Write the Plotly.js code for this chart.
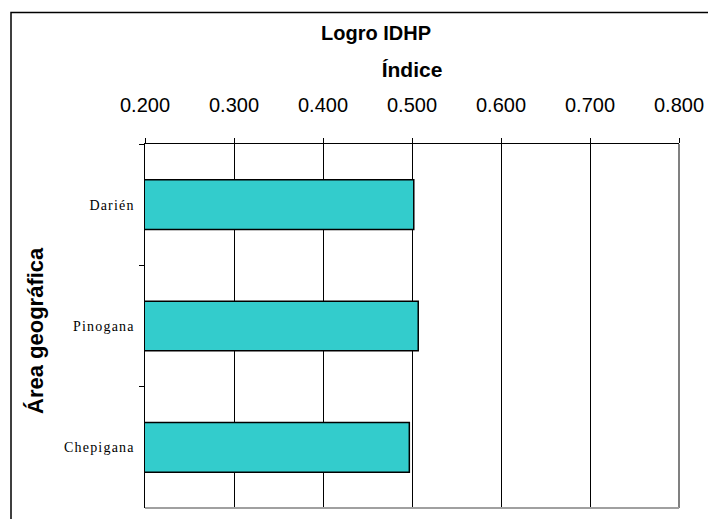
<!DOCTYPE html>
<html>
<head>
<meta charset="utf-8">
<script src="https://cdn.plot.ly/plotly-3.0.1.min.js"></script>
<style>
html,body{margin:0;padding:0;background:#fff;}
#chart{width:708px;height:519px;}
#chart .ytick text{letter-spacing:1.2px;}
</style>
</head>
<body>
<div id="chart"></div>
<script>
// Data
const categories = ["Darién", "Pinogana", "Chepigana"];
const indiceValues = [0.502, 0.507, 0.497];
const tickValues = [0.2, 0.3, 0.4, 0.5, 0.6, 0.7, 0.8];
const tickLabels = ["0.200", "0.300", "0.400", "0.500", "0.600", "0.700", "0.800"];
const chartTitle = "Logro IDHP";
const xTitle = "Índice";
const yTitle = "Área geográfica";

const W = 708, H = 519;
const L = 145, R = 29, T = 144, B = 11;
const pw = W - L - R, ph = H - T - B;
const px = v => (v - L) / pw;
const py = v => (H - B - v) / ph;

const trace = {
  type: "bar",
  orientation: "h",
  y: categories,
  x: indiceValues,
  marker: { color: "#33CCCC", line: { color: "#000000", width: 1.5 } },
  hoverinfo: "x+y"
};

const layout = {
  width: W, height: H,
  margin: { l: L, r: R, t: T, b: B, pad: 0 },
  paper_bgcolor: "#ffffff",
  plot_bgcolor: "#ffffff",
  showlegend: false,
  bargap: 0.59,
  title: {
    text: "<b>" + chartTitle + "</b>",
    font: { family: "Liberation Sans, Arial, sans-serif", size: 20, color: "#000" },
    xref: "paper", x: px(376), xanchor: "center",
    yref: "container", y: 1 - 33 / H, yanchor: "middle"
  },
  xaxis: {
    side: "top",
    range: [0.2, 0.8],
    tickvals: tickValues,
    ticktext: tickLabels,
    tickfont: { family: "Liberation Sans, Arial, sans-serif", size: 20, color: "#000" },
    ticks: "outside", ticklen: 5, tickcolor: "#000", tickwidth: 1,
    ticklabelstandoff: 18,
    showline: true, linecolor: "#000", linewidth: 1.5,
    showgrid: true, gridcolor: "#000", gridwidth: 1,
    zeroline: false,
    fixedrange: true,
    title: {
      text: "<b>" + xTitle + "</b>",
      font: { family: "Liberation Sans, Arial, sans-serif", size: 21, color: "#000" },
      standoff: 10
    }
  },
  yaxis: {
    type: "category",
    categoryorder: "array",
    categoryarray: categories,
    autorange: "reversed",
    tickson: "boundaries",
    ticks: "outside", ticklen: 5, tickcolor: "#000", tickwidth: 1,
    ticklabelstandoff: 6,
    tickfont: { family: "Liberation Serif, Times New Roman, serif", size: 14, color: "#000" },
    showline: true, linecolor: "#000", linewidth: 1.5,
    showgrid: false,
    zeroline: false,
    fixedrange: true
  },
  annotations: [{
    text: "<b>" + yTitle + "</b>",
    textangle: -90,
    xref: "paper", yref: "paper",
    x: px(35), y: py(331),
    xanchor: "center", yanchor: "middle",
    showarrow: false,
    font: { family: "Liberation Sans, Arial, sans-serif", size: 22, color: "#000" }
  }],
  shapes: [
    { type: "line", xref: "paper", yref: "paper", x0: 1, x1: 1, y0: 0, y1: 1,
      line: { color: "#808080", width: 2 }, layer: "above" },
    { type: "line", xref: "paper", yref: "paper", x0: 0, x1: 1, y0: 0, y1: 0,
      line: { color: "#a0a0a0", width: 2 }, layer: "above" },
    { type: "rect", xref: "paper", yref: "paper",
      x0: px(11), x1: px(720), y0: py(540), y1: py(12.5),
      line: { color: "#000", width: 1.5 }, fillcolor: "rgba(0,0,0,0)", layer: "above" }
  ]
};

Plotly.newPlot("chart", [trace], layout, { displayModeBar: false, staticPlot: true });
</script>
</body>
</html>
